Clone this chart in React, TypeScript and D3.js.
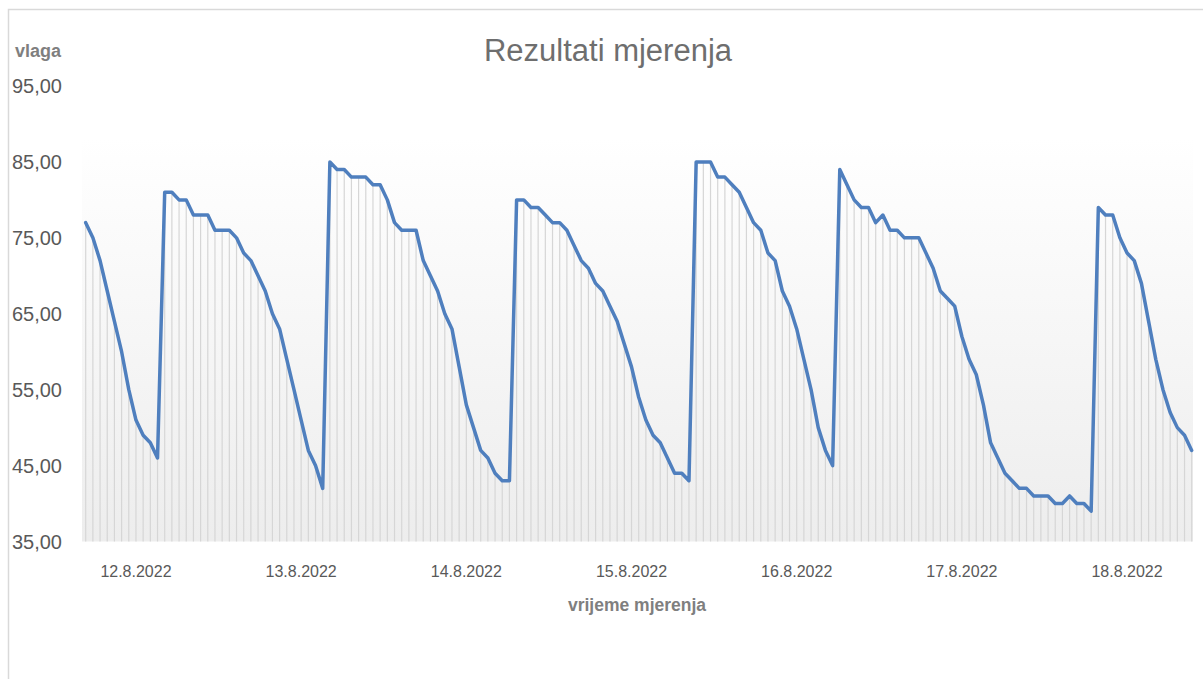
import { useEffect, useRef } from "react";
import * as d3 from "d3";

// humidity readings (vlaga), one per measurement
const vlaga: number[] = [
  77, 75, 72, 68, 64, 60, 55, 51, 49, 48, 46,
  81, 81, 80, 80, 78, 78, 78, 76, 76, 76, 75, 73, 72, 70, 68, 65, 63, 59, 55, 51, 47, 45, 42,
  85, 84, 84, 83, 83, 83, 82, 82, 80, 77, 76, 76, 76, 72, 70, 68, 65, 63, 58, 53, 50, 47, 46, 44, 43, 43,
  80, 80, 79, 79, 78, 77, 77, 76, 74, 72, 71, 69, 68, 66, 64, 61, 58, 54, 51, 49, 48, 46, 44, 44, 43,
  85, 85, 85, 83, 83, 82, 81, 79, 77, 76, 73, 72, 68, 66, 63, 59, 55, 50, 47, 45,
  84, 82, 80, 79, 79, 77, 78, 76, 76, 75, 75, 75, 73, 71, 68, 67, 66, 62, 59, 57, 53, 48, 46, 44, 43, 42, 42, 41, 41, 41, 40, 40, 41, 40, 40, 39,
  79, 78, 78, 75, 73, 72, 69, 64, 59, 55, 52, 50, 49, 47,
];

const dateLabels = ["12.8.2022", "13.8.2022", "14.8.2022", "15.8.2022", "16.8.2022", "17.8.2022", "18.8.2022"];
const dateLabelIndex = [7, 30, 53, 76, 99, 122, 145];
const yTicks = [35, 45, 55, 65, 75, 85, 95];

const title = "Rezultati mjerenja";
const yTitle = "vlaga";
const xTitle = "vrijeme mjerenja";

export default function App() {
  const svgRef = useRef<SVGSVGElement>(null);

  useEffect(() => {
    if (!svgRef.current) return;
    const width = 1203;
    const height = 679;
    const svg = d3.select(svgRef.current);
    svg.selectAll("*").remove();
    svg.attr("width", width).attr("height", height);

    const font = "'Liberation Sans', Arial, sans-serif";

    const xScale = d3.scaleLinear().domain([0, vlaga.length - 1]).range([85.7, 1191.7]);
    const yScale = d3.scaleLinear().domain([35, 95]).range([541.5, 86]);

    // chart frame
    svg
      .append("rect")
      .attr("x", 8.5)
      .attr("y", 9.5)
      .attr("width", width + 20)
      .attr("height", height + 20)
      .attr("fill", "#fff")
      .attr("stroke", "#d9d9d9")
      .attr("stroke-width", 1.5);

    // plot area gradient
    const defs = svg.append("defs");
    const grad = defs
      .append("linearGradient")
      .attr("id", "plotGrad")
      .attr("x1", 0)
      .attr("y1", 0)
      .attr("x2", 0)
      .attr("y2", 1);
    grad.append("stop").attr("offset", "0%").attr("stop-color", "#ffffff");
    grad.append("stop").attr("offset", "100%").attr("stop-color", "#ededed");

    svg
      .append("rect")
      .attr("x", 82)
      .attr("y", 137)
      .attr("width", 1193 - 82)
      .attr("height", yScale(35) - 137)
      .attr("fill", "url(#plotGrad)");

    // drop lines
    svg
      .append("g")
      .selectAll("line")
      .data(vlaga)
      .join("line")
      .attr("x1", (_, i) => xScale(i))
      .attr("x2", (_, i) => xScale(i))
      .attr("y1", (d) => yScale(d))
      .attr("y2", yScale(35))
      .attr("stroke", "#d6d6d6")
      .attr("stroke-width", 1.2);

    // line
    const line = d3
      .line<number>()
      .x((_, i) => xScale(i))
      .y((d) => yScale(d));

    svg
      .append("path")
      .datum(vlaga)
      .attr("d", line)
      .attr("fill", "none")
      .attr("stroke", "#4f7fbe")
      .attr("stroke-width", 3.5)
      .attr("stroke-linejoin", "round")
      .attr("stroke-linecap", "round");

    // y tick labels
    const fmt = (v: number) => v.toFixed(2).replace(".", ",");
    svg
      .append("g")
      .selectAll("text")
      .data(yTicks)
      .join("text")
      .attr("x", 62)
      .attr("y", (d) => yScale(d))
      .attr("dy", "0.35em")
      .attr("text-anchor", "end")
      .style("font-family", font)
      .style("font-size", "20px")
      .attr("fill", "#595959")
      .text((d) => fmt(d));

    // x tick labels
    svg
      .append("g")
      .selectAll("text")
      .data(dateLabels)
      .join("text")
      .attr("x", (_, i) => xScale(dateLabelIndex[i]))
      .attr("y", 571)
      .attr("dy", "0.35em")
      .attr("text-anchor", "middle")
      .style("font-family", font)
      .style("font-size", "16px")
      .attr("fill", "#595959")
      .text((d) => d);

    // titles
    svg
      .append("text")
      .attr("x", 608)
      .attr("y", 50)
      .attr("dy", "0.35em")
      .attr("text-anchor", "middle")
      .style("font-family", font)
      .style("font-size", "31px")
      .attr("fill", "#6e6e6e")
      .text(title);

    svg
      .append("text")
      .attr("x", 15)
      .attr("y", 51)
      .attr("dy", "0.35em")
      .style("font-family", font)
      .style("font-size", "18px")
      .style("font-weight", "bold")
      .attr("fill", "#7f7f7f")
      .text(yTitle);

    svg
      .append("text")
      .attr("x", 637)
      .attr("y", 605)
      .attr("dy", "0.35em")
      .attr("text-anchor", "middle")
      .style("font-family", font)
      .style("font-size", "17.5px")
      .style("font-weight", "bold")
      .attr("fill", "#7f7f7f")
      .text(xTitle);
  }, []);

  return (
    <svg
      ref={svgRef}
      style={{ position: "absolute", left: 0, top: 0, display: "block" }}
    />
  );
}
